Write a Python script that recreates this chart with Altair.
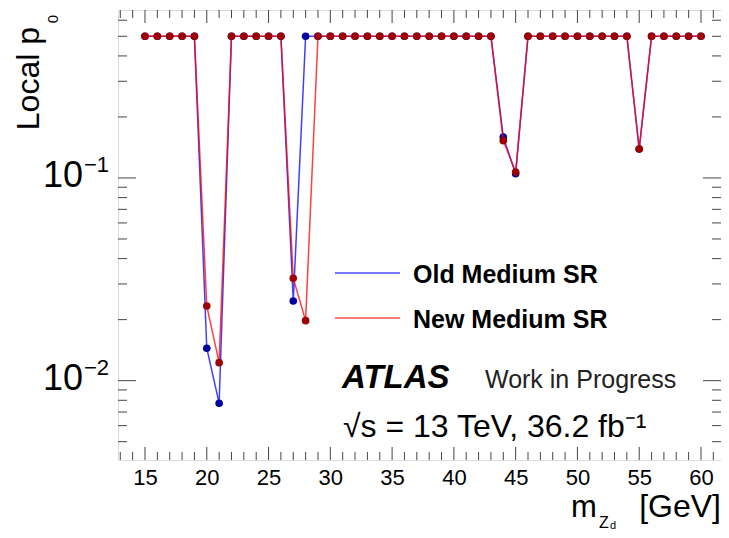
import altair as alt
import pandas as pd

# ---------------- data ----------------
mass = [15, 16, 17, 18, 19, 20, 21, 22, 23, 24, 25, 26, 27, 28, 29, 30,
        31, 32, 33, 34, 35, 36, 37, 38, 39, 40, 41, 42, 43, 44, 45, 46,
        47, 48, 49, 50, 51, 52, 53, 54, 55, 56, 57, 58, 59, 60]

old_p0 = [0.5, 0.5, 0.5, 0.5, 0.5, 0.01445, 0.00774, 0.5, 0.5, 0.5, 0.5, 0.5,
          0.0247, 0.5, 0.5, 0.5, 0.5, 0.5, 0.5, 0.5, 0.5, 0.5, 0.5, 0.5, 0.5,
          0.5, 0.5, 0.5, 0.5, 0.159, 0.105, 0.5, 0.5, 0.5, 0.5, 0.5, 0.5, 0.5,
          0.5, 0.5, 0.139, 0.5, 0.5, 0.5, 0.5, 0.5]

new_p0 = [0.5, 0.5, 0.5, 0.5, 0.5, 0.02336, 0.01227, 0.5, 0.5, 0.5, 0.5, 0.5,
          0.032, 0.01977, 0.5, 0.5, 0.5, 0.5, 0.5, 0.5, 0.5, 0.5, 0.5, 0.5, 0.5,
          0.5, 0.5, 0.5, 0.5, 0.1528, 0.107, 0.5, 0.5, 0.5, 0.5, 0.5, 0.5, 0.5,
          0.5, 0.5, 0.139, 0.5, 0.5, 0.5, 0.5, 0.5]

series_names = ["Old Medium SR", "New Medium SR"]

x_major = [15, 20, 25, 30, 35, 40, 45, 50, 55, 60]
x_minor = [13, 14, 16, 17, 18, 19, 21, 22, 23, 24, 26, 27, 28, 29, 31, 32,
           33, 34, 36, 37, 38, 39, 41, 42, 43, 44, 46, 47, 48, 49, 51, 52,
           53, 54, 56, 57, 58, 59, 61]
y_major = [0.01, 0.1]
y_label_base = ["10", "10"]
y_label_exp = ["\u22122", "\u22121"]
y_minor = [0.005, 0.006, 0.007, 0.008, 0.009,
           0.02, 0.03, 0.04, 0.05, 0.06, 0.07, 0.08, 0.09,
           0.2, 0.3, 0.4, 0.5, 0.6]

# ---------------- layout ----------------
W, H = 603, 450
FONT = "Liberation Sans"

xscale = alt.Scale(domain=[12.815, 61.62], nice=False, zero=False)
yscale = alt.Scale(type="log", domain=[0.00406, 0.674], nice=False)

xaxis = alt.Axis(values=x_major, ticks=False, domain=False, grid=False,
                 labelFontSize=22, labelFont=FONT, labelColor="black",
                 labelPadding=7, labelFlush=False, title=None)

df_old = pd.DataFrame({"mass": mass, "p0": old_p0, "series": series_names[0]})
df_new = pd.DataFrame({"mass": mass, "p0": new_p0, "series": series_names[1]})
df_ylab = pd.DataFrame({"v": y_major, "base": y_label_base, "exp": y_label_exp})


def series_layers(df, line_color, point_color):
    base = alt.Chart(df).encode(
        x=alt.X("mass:Q", scale=xscale, axis=xaxis),
        y=alt.Y("p0:Q", scale=yscale, axis=None),
    )
    line = base.mark_line(color=line_color, opacity=0.75, strokeWidth=1.5)
    pts = base.mark_circle(color=point_color, size=58, opacity=1)
    return [line, pts]


def ticks_y(values, length, right=False):
    x0, x1 = (W - length, W) if right else (0, length)
    return alt.Chart(pd.DataFrame({"v": values})).mark_rule(
        color="#444", strokeWidth=1).encode(
        y=alt.Y("v:Q", scale=yscale, axis=None),
        x=alt.value(x0), x2=alt.value(x1))


def ticks_x(values, length, top=False):
    y0, y1 = (0, length) if top else (H - length, H)
    return alt.Chart(pd.DataFrame({"v": values})).mark_rule(
        color="#444", strokeWidth=1).encode(
        x=alt.X("v:Q", scale=xscale, axis=xaxis),
        y=alt.value(y0), y2=alt.value(y1))


def text(t, x, y, size, align="left", angle=0, color="black", **kw):
    return alt.Chart(pd.DataFrame({"t": [t]})).mark_text(
        align=align, baseline="alphabetic", font=FONT, fontSize=size,
        angle=angle, color=color, **kw).encode(
        text="t:N", x=alt.value(x), y=alt.value(y))


def legend_line(color, y):
    return alt.Chart(pd.DataFrame({"t": [0]})).mark_rule(
        color=color, opacity=0.7, strokeWidth=1.5).encode(
        x=alt.value(217), x2=alt.value(282), y=alt.value(y))


layers = []
layers += series_layers(df_old, "#0000ff", "#00009c")
layers += series_layers(df_new, "#ff0000", "#9c0000")
layers += [ticks_y(y_major, 18), ticks_y(y_minor, 9),
           ticks_y(y_major, 18, right=True), ticks_y(y_minor, 9, right=True),
           ticks_x(x_major, 13), ticks_x(x_minor, 8),
           ticks_x(x_major, 13, top=True), ticks_x(x_minor, 8, top=True)]

# y tick labels (10 with exponent), placed through the y scale
layers += [
    alt.Chart(df_ylab).mark_text(align="right", baseline="alphabetic",
                                 font=FONT, fontSize=36, dy=9, color="black"
                                 ).encode(y=alt.Y("v:Q", scale=yscale, axis=None),
                                          x=alt.value(-35), text="base:N"),
    alt.Chart(df_ylab).mark_text(align="left", baseline="alphabetic",
                                 font=FONT, fontSize=22, dy=-6, color="black"
                                 ).encode(y=alt.Y("v:Q", scale=yscale, axis=None),
                                          x=alt.value(-34), text="exp:N"),
]

# legend
layers += [legend_line("#0000ff", 263), legend_line("#ff0000", 308),
           text(series_names[0], 295, 273, 25, fontWeight="bold"),
           text(series_names[1], 295, 318, 25, fontWeight="bold")]

# annotations
layers += [text("ATLAS", 224, 378, 33, fontWeight="bold", fontStyle="italic"),
           text("Work in Progress", 367, 378, 25, color="#222"),
           text("\u221as = 13 TeV, 36.2 fb\u207b\u00b9", 225, 427, 32)]

# axis titles
layers += [text("Local p", -79, 17, 32, align="right", angle=270),
           text("0", -60, 5, 15, align="right", angle=270),
           text("[GeV]", W, 507, 32, align="right"),
           text("m", 453, 507, 31),
           text("Z", 481, 518, 16),
           text("d", 492, 519, 11)]

chart = alt.layer(*layers).properties(
    width=W, height=H,
    padding={"left": 110, "top": 2, "right": 0, "bottom": 70},
    autosize=alt.AutoSizeParams(type="none"),
).configure_view(stroke="black", strokeWidth=1).configure(background="white")

chart.save("out.html", embed_options={"renderer": "svg", "actions": False})
